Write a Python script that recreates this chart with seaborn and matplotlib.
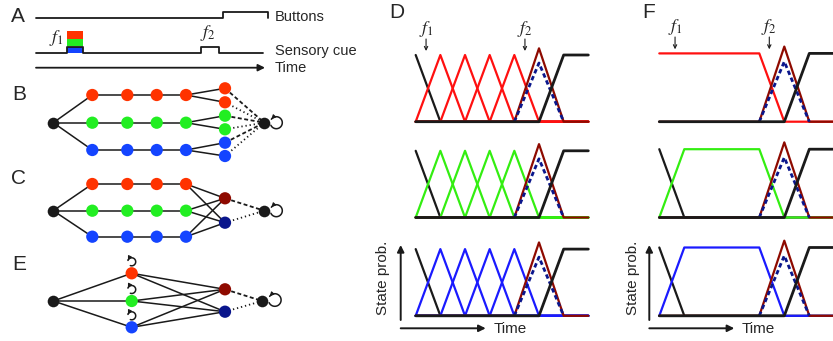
import numpy as np
import matplotlib
matplotlib.use('Agg')
import matplotlib.pyplot as plt
import seaborn as sns
from matplotlib.patches import Rectangle

W, H = 833, 341

# colours
NODE_RED, NODE_GREEN, NODE_BLUE = '#ff3300', '#22ee22', '#1444ff'
LINE_RED, LINE_GREEN, LINE_BLUE = '#ff1010', '#33ee11', '#1a1aff'
DRED, DBLUE = '#8e0a00', '#0a168c'

# ---- panel A: task timeline (figure pixels) ----
button_x = [36, 223, 223, 268, 268]
button_y = [17.7, 17.7, 11.7, 11.7, 18.0]
cue_x = [36, 66.7, 66.7, 83.3, 83.3, 201, 201, 219, 219, 263]
cue_y = [52.7, 52.7, 46.7, 46.7, 52.7, 52.7, 46.7, 46.7, 52.7, 52.7]
cue_bands = [(NODE_RED, 31.0, 39.0), (NODE_GREEN, 39.0, 45.5), (NODE_BLUE, 46.7, 52.7)]

# ---- panels B, C, E: state graphs (figure pixels) ----
start_x = 53.3
chain_x = [92.3, 127.3, 156.7, 186.0]
split_x = 225.0
row_colors = [NODE_RED, NODE_GREEN, NODE_BLUE]

b_rows = [95.0, 122.7, 150.0]
b_split = [[88.3, 102.3], [115.7, 129.3], [142.7, 156.0]]
b_end = (264.3, 122.7)

c_rows = [184.0, 210.7, 236.7]
c_decision = [198.3, 222.7]
c_end = (264.3, 210.7)

e_start_y = 301.0
e_state_x = 131.7
e_rows = [273.3, 301.0, 327.3]
e_decision = [289.3, 311.7]
e_end = (262.3, 301.0)

# ---- panels D, F: state probabilities over time ----
t = [0, 1, 2, 3, 4, 5, 6, 7]
start_state = [1, 0, 0, 0, 0, 0, 0, 0]
end_state = [0, 0, 0, 0, 0, 0, 1, 1]
chain_states = [
    [0, 1, 0, 0, 0, 0, 0, 0],
    [0, 0, 1, 0, 0, 0, 0, 0],
    [0, 0, 0, 1, 0, 0, 0, 0],
    [0, 0, 0, 0, 1, 0, 0, 0],
]
decision_state = [0, 0, 0, 0, 0, 1.1, 0, 0]
other_t = [4, 5, 6]
other_state = [0, 0.88, 0]
hold_first = [1, 1, 1, 1, 1, 0, 0, 0]
hold_state = [0, 1, 1, 1, 1, 0, 0, 0]

sns.set_theme(style='white')
plt.rcParams['font.family'] = ['Liberation Sans', 'DejaVu Sans']
plt.rcParams['mathtext.fontset'] = 'stix'

fig = plt.figure(figsize=(W / 100, H / 100), dpi=100)
ov = fig.add_axes([0, 0, 1, 1])
ov.set_xlim(0, W)
ov.set_ylim(H, 0)
ov.axis('off')


def arrow(ax, x0, y0, x1, y1, lw=1.3, ms=10):
    ax.annotate('', xy=(x1, y1), xytext=(x0, y0),
                arrowprops=dict(arrowstyle='-|>', color='k', lw=lw,
                                mutation_scale=ms, shrinkA=0, shrinkB=0))


def loop(ax, cx, cy, r, a0, a1):
    a = np.radians(np.linspace(a0, a1, 40))
    xs = cx + r * np.cos(a)
    ys = cy - r * np.sin(a)
    ax.plot(xs, ys, color='k', lw=1.1)
    arrow(ax, xs[-3], ys[-3], xs[-1], ys[-1], lw=0.8, ms=6)


def edge(ax, p, q, ls='-'):
    if ls == 'dash':
        ax.plot([p[0], q[0]], [p[1], q[1]], color='k', lw=1.3, ls=(0, (2.2, 1.4)))
    elif ls == 'dot':
        ax.plot([p[0], q[0]], [p[1], q[1]], color='k', lw=1.3, ls=(0, (0.7, 1.6)))
    else:
        ax.plot([p[0], q[0]], [p[1], q[1]], color='k', lw=1.1)


def nodes(ax, xs, ys, colors, size=78):
    sns.scatterplot(x=xs, y=ys, ax=ax, color=colors if isinstance(colors, str) else None,
                    c=None if isinstance(colors, str) else colors,
                    s=size, linewidth=0, zorder=5, legend=False)


# panel letters
for lab, x, y in [('A', 18, 16), ('B', 19, 95), ('C', 19, 178), ('E', 19, 265),
                  ('D', 397, 13), ('F', 649, 13)]:
    ov.text(x, y, lab, fontsize=15, ha='center', va='center')

# ---- A ----
for c, y0, y1 in cue_bands:
    ov.add_patch(Rectangle((66.7, y0), 16.6, y1 - y0, color=c, lw=0, zorder=1))
ov.plot(button_x, button_y, color='k', lw=1.3, zorder=2)
ov.plot(cue_x, cue_y, color='k', lw=1.3, zorder=2)
arrow(ov, 36, 67.7, 265, 67.7, lw=1.3, ms=10)
ov.text(275, 17, 'Buttons', fontsize=10.5, va='center')
ov.text(275, 51, 'Sensory cue', fontsize=10.5, va='center')
ov.text(275, 68, 'Time', fontsize=10.5, va='center')
ov.text(56, 38, r'$f_1$', fontsize=13, ha='center', va='center')
ov.text(208, 33, r'$f_2$', fontsize=13, ha='center', va='center')

# ---- B ----
for ry, sy, c in zip(b_rows, b_split, row_colors):
    edge(ov, (start_x, b_rows[1]), (chain_x[0], ry))
    edge(ov, (chain_x[0], ry), (chain_x[-1], ry))
    for k, y2 in enumerate(sy):
        edge(ov, (chain_x[-1], ry), (split_x, y2))
        edge(ov, (split_x, y2), b_end, 'dash' if k == 0 else 'dot')
    nodes(ov, chain_x, [ry] * 4, [c] * 4)
    nodes(ov, [split_x] * 2, sy, [c] * 2)
nodes(ov, [start_x, b_end[0]], [b_rows[1], b_end[1]], 'k', size=70)
loop(ov, b_end[0] + 12, b_end[1], 6, 205, 505)

# ---- C ----
for ry, c in zip(c_rows, row_colors):
    edge(ov, (start_x, c_rows[1]), (chain_x[0], ry))
    edge(ov, (chain_x[0], ry), (chain_x[-1], ry))
    for y2 in c_decision:
        edge(ov, (chain_x[-1], ry), (split_x, y2))
    nodes(ov, chain_x, [ry] * 4, [c] * 4)
edge(ov, (split_x, c_decision[0]), c_end, 'dash')
edge(ov, (split_x, c_decision[1]), c_end, 'dot')
nodes(ov, [split_x] * 2, c_decision, [DRED, DBLUE])
nodes(ov, [start_x, c_end[0]], [c_rows[1], c_end[1]], 'k', size=70)
loop(ov, c_end[0] + 12, c_end[1], 6, 205, 505)

# ---- E ----
for ry, c in zip(e_rows, row_colors):
    edge(ov, (start_x, e_start_y), (e_state_x, ry))
    for y2 in e_decision:
        edge(ov, (e_state_x, ry), (split_x, y2))
    loop(ov, e_state_x, ry - 11.5, 4, 250, 520)
edge(ov, (split_x, e_decision[0]), e_end, 'dash')
edge(ov, (split_x, e_decision[1]), e_end, 'dot')
nodes(ov, [e_state_x] * 3, e_rows, row_colors)
nodes(ov, [split_x] * 2, e_decision, [DRED, DBLUE])
nodes(ov, [start_x, e_end[0]], [e_start_y, e_end[1]], 'k', size=70)
loop(ov, e_end[0] + 12.5, e_end[1] - 1, 6.3, 205, 505)


# ---- D and F ----
def trace_axes(x0, unit, base, amp):
    lo, hi = -0.1, 1.45
    ax = fig.add_axes([x0 / W, (H - (base - lo * amp)) / H,
                       7 * unit / W, (hi - lo) * amp / H])
    ax.set_xlim(0, 7)
    ax.set_ylim(lo, hi)
    ax.axis('off')
    ax.patch.set_alpha(0)
    return ax


def line(ax, x, y, color, lw=1.6, **kw):
    sns.lineplot(x=x, y=y, ax=ax, color=color, lw=lw, legend=False,
                 clip_on=False, **kw)


bases = [121.7, 217.5, 315.8]
line_colors = [LINE_RED, LINE_GREEN, LINE_BLUE]

for i, (base, c) in enumerate(zip(bases, line_colors)):
    # D: chain of short-lived states
    ax = trace_axes(415.7, 24.66, base, 66.7)
    line(ax, t, start_state, 'k')
    for s in chain_states:
        line(ax, t, s, c)
    line(ax, t, decision_state, DRED)
    line(ax, other_t, other_state, DBLUE, lw=2.0, linestyle=(0, (1.6, 1.1)))
    line(ax, t, end_state, 'k', lw=2.0)
    if i == 0:
        for ft, lab in [(0.42, r'$f_1$'), (4.43, r'$f_2$')]:
            ax.annotate('', xy=(ft, 1.06), xytext=(ft, 1.24),
                        arrowprops=dict(arrowstyle='->', color='k', lw=0.8,
                                        mutation_scale=6, shrinkA=0, shrinkB=0))
            ax.text(ft, 1.39, lab, fontsize=13, ha='center', va='center')

    # F: one persistent state
    ax = trace_axes(659.3, 25.0, base, 68.3)
    if i == 0:
        line(ax, t, hold_first, c)
    else:
        line(ax, t, start_state, 'k')
        line(ax, t, hold_state, c)
    line(ax, t, decision_state, DRED)
    line(ax, other_t, other_state, DBLUE, lw=2.0, linestyle=(0, (1.6, 1.1)))
    line(ax, t, end_state, 'k', lw=2.0)
    if i == 0:
        for ft, lab in [(0.63, r'$f_1$'), (4.4, r'$f_2$')]:
            ax.annotate('', xy=(ft, 1.06), xytext=(ft, 1.24),
                        arrowprops=dict(arrowstyle='->', color='k', lw=0.8,
                                        mutation_scale=6, shrinkA=0, shrinkB=0))
            ax.text(ft, 1.39, lab, fontsize=13, ha='center', va='center')

# axis arrows under the bottom rows
for ax_x, lab_x, ylab_x in [(400.7, 493.3, 383.3), (649.3, 741.7, 632.7)]:
    arrow(ov, ax_x, 320, ax_x, 245, lw=1.4, ms=10)
    arrow(ov, ax_x, 328.3, ax_x + 85, 328.3, lw=1.4, ms=10)
    ov.text(lab_x, 329, 'Time', fontsize=11, va='center')
    ov.text(ylab_x, 278, 'State prob.', fontsize=11, rotation=90,
            ha='center', va='center')

fig.savefig('out.png', dpi=100)
